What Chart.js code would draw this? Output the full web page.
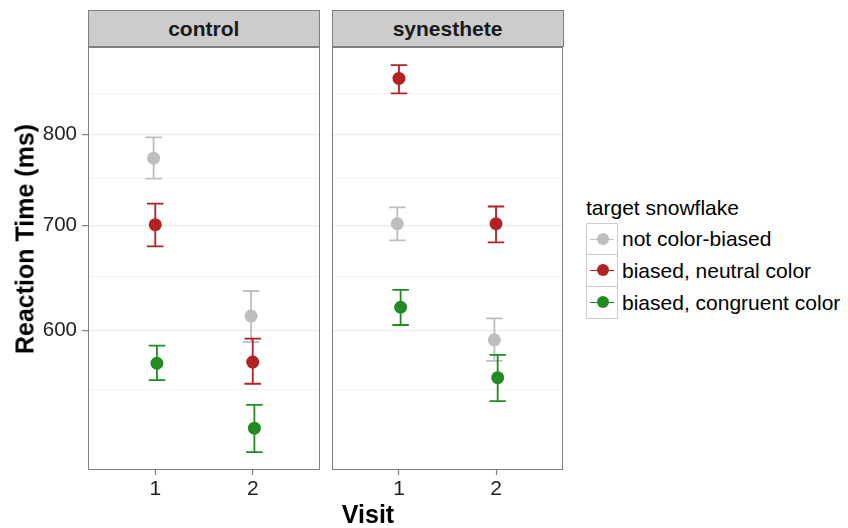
<!DOCTYPE html>
<html>
<head>
<meta charset="utf-8">
<script src="https://cdn.jsdelivr.net/npm/chart.js@4.4.1/dist/chart.umd.min.js"></script>
<style>
  html, body { margin:0; padding:0; background:#fff; }
  body { width:848px; height:528px; position:relative; overflow:hidden;
         font-family:"Liberation Sans", Arial, sans-serif; color:#000; }
  canvas { position:absolute; }
  .strip { position:absolute; top:10px; height:37px; box-sizing:border-box;
           background:#cccccc; border:1px solid #808080; font-weight:bold;
           font-size:21px; text-align:center; line-height:35px; color:#1a1a1a; }
  .ytitle { position:absolute; left:25px; top:239px; font-weight:bold; font-size:25px;
            line-height:25px; white-space:nowrap; transform:translate(-50%,-50%) rotate(-90deg); }
  .xtitle { position:absolute; left:368px; top:502px; font-weight:bold; font-size:25px;
            line-height:25px; white-space:nowrap; transform:translateX(-50%); }
  .legend { position:absolute; left:586px; top:197px; font-size:21px; }
  .ltitle { line-height:22px; height:26px; }
  .lrow { position:relative; height:32px; line-height:32px; white-space:nowrap; }
  .lkey { position:absolute; left:0; top:0; width:32px; height:32px; box-sizing:border-box;
          border:1.5px solid #cccccc; background:#fff; }
  .lrow + .lrow .lkey { border-top:none; height:32px; }
  .lline { position:absolute; left:3px; right:3px; top:14.5px; height:1.6px; }
  .ldot { position:absolute; left:9.5px; top:9px; width:12px; height:12px; border-radius:50%; }
  .llab { position:absolute; left:36px; top:0; }
</style>
</head>
<body>
<canvas id="cA" width="322" height="481" style="left:0;top:47px;"></canvas>
<canvas id="cB" width="244" height="481" style="left:322px;top:47px;"></canvas>
<div class="strip" id="s0" style="left:87.5px;width:232.5px;"></div>
<div class="strip" id="s1" style="left:331.5px;width:232px;"></div>
<div class="ytitle" id="yt"></div>
<div class="xtitle" id="xt"></div>
<div class="legend" id="legend"></div>
<script>
// ---- data ----
const visits = [1, 2];
const groups = ['control', 'synesthete'];
const seriesNames = ['not color-biased', 'biased, neutral color', 'biased, congruent color'];
const seriesColors = ['#bebebe', '#b22222', '#228b22'];
const legendTitle = 'target snowflake';
const xTitle = 'Visit';
const yTitle = 'Reaction Time (ms)';

// mean and error-bar limits, rows = series, columns = visits
const ctrlMean = [[773, 613], [701, 573], [572, 520]];
const ctrlLow  = [[750, 590], [679, 555], [558, 502]];
const ctrlHigh = [[797, 636], [723, 593], [587, 538]];
const synMean  = [[702, 592], [869, 702], [621, 560]];
const synLow   = [[685, 574], [850, 683], [605, 541]];
const synHigh  = [[719, 611], [886, 720], [637, 579]];

const yGridTicks = [550, 600, 650, 700, 750, 800, 850];
const yLabelTicks = [600, 700, 800];

// ---- styling ----
const dodge = [-0.017, 0, 0.017];
const capWidth = 0.17;
Chart.defaults.font.family = '"Liberation Sans", Arial, sans-serif';

function buildDatasets(mean, low, high) {
  return seriesNames.map((name, s) => ({
    label: name,
    data: visits.map((v, i) => ({ x: v + dodge[s], y: mean[s][i], lo: low[s][i], hi: high[s][i] })),
    backgroundColor: seriesColors[s],
    borderColor: seriesColors[s],
    borderWidth: 0,
    pointRadius: 6.5,
    pointHoverRadius: 6.5,
    showLine: false
  }));
}

const errorBars = {
  id: 'errorBars',
  beforeDatasetsDraw(chart) {
    const { ctx, scales: { x, y } } = chart;
    ctx.save();
    ctx.lineWidth = 1.8;
    chart.data.datasets.forEach(ds => {
      ctx.strokeStyle = ds.borderColor;
      ds.data.forEach(p => {
        const px = x.getPixelForValue(p.x);
        const x0 = x.getPixelForValue(p.x - capWidth / 2);
        const x1 = x.getPixelForValue(p.x + capWidth / 2);
        const yl = y.getPixelForValue(p.lo);
        const yh = y.getPixelForValue(p.hi);
        ctx.beginPath();
        ctx.moveTo(px, yl); ctx.lineTo(px, yh);
        ctx.moveTo(x0, yl); ctx.lineTo(x1, yl);
        ctx.moveTo(x0, yh); ctx.lineTo(x1, yh);
        ctx.stroke();
      });
    });
    ctx.restore();
  }
};

const panelBorder = {
  id: 'panelBorder',
  afterDraw(chart) {
    const { ctx, chartArea: a } = chart;
    ctx.save();
    ctx.strokeStyle = '#808080';
    ctx.lineWidth = 1;
    ctx.strokeRect(a.left + 0.5, a.top + 0.5, a.right - a.left - 1, a.bottom - a.top - 1);
    ctx.restore();
  }
};

function makeChart(id, mean, low, high, showY, yWidth, padRight) {
  return new Chart(document.getElementById(id), {
    type: 'scatter',
    data: { datasets: buildDatasets(mean, low, high) },
    options: {
      responsive: false,
      animation: false,
      events: [],
      layout: { autoPadding: false, padding: { left: 0, right: padRight, top: 0, bottom: 0 } },
      plugins: { legend: { display: false }, tooltip: { enabled: false } },
      scales: {
        x: {
          type: 'linear', min: 0.31, max: 2.69, bounds: 'data',
          afterBuildTicks: s => { s.ticks = visits.map(v => ({ value: v })); },
          afterFit: s => { s.height = 58; s.paddingLeft = 0; s.paddingRight = 0; },
          border: { display: false },
          grid: { drawOnChartArea: false, drawTicks: true, tickLength: 5, tickColor: '#808080', tickWidth: 1.2 },
          ticks: { color: '#222', font: { size: 21 }, padding: 2, maxRotation: 0, callback: v => String(v) }
        },
        y: {
          type: 'logarithmic', min: 489, max: 910, bounds: 'data',
          afterBuildTicks: s => { s.ticks = yGridTicks.map(v => ({ value: v })); },
          afterFit: s => { s.width = yWidth; s.paddingTop = 0; s.paddingBottom = 0; },
          border: { display: false },
          grid: {
            drawTicks: showY,
            tickLength: 6,
            tickWidth: 1.2,
            tickColor: c => (c.tick && yLabelTicks.includes(c.tick.value)) ? '#808080' : 'rgba(0,0,0,0)',
            color: c => (c.tick && yLabelTicks.includes(c.tick.value)) ? '#ebebeb' : '#f4f4f4',
            lineWidth: c => (c.tick && yLabelTicks.includes(c.tick.value)) ? 1.3 : 1
          },
          ticks: {
            display: showY, color: '#222', font: { size: 20.5 }, padding: 5,
            autoSkip: false,
            callback: v => yLabelTicks.includes(v) ? String(v) : ''
          }
        }
      }
    },
    plugins: [errorBars, panelBorder]
  });
}

makeChart('cA', ctrlMean, ctrlLow, ctrlHigh, true, 88, 2);
makeChart('cB', synMean, synLow, synHigh, false, 10, 3);

// ---- text ----
document.getElementById('s0').textContent = groups[0];
document.getElementById('s1').textContent = groups[1];
document.getElementById('yt').textContent = yTitle;
document.getElementById('xt').textContent = xTitle;

const leg = document.getElementById('legend');
const t = document.createElement('div');
t.className = 'ltitle'; t.textContent = legendTitle; leg.appendChild(t);
seriesNames.forEach((name, s) => {
  const row = document.createElement('div'); row.className = 'lrow';
  const key = document.createElement('div'); key.className = 'lkey';
  const line = document.createElement('div'); line.className = 'lline'; line.style.background = seriesColors[s];
  const dot = document.createElement('div'); dot.className = 'ldot'; dot.style.background = seriesColors[s];
  key.appendChild(line); key.appendChild(dot);
  const lab = document.createElement('div'); lab.className = 'llab'; lab.textContent = name;
  row.appendChild(key); row.appendChild(lab); leg.appendChild(row);
});
</script>
</body>
</html>
